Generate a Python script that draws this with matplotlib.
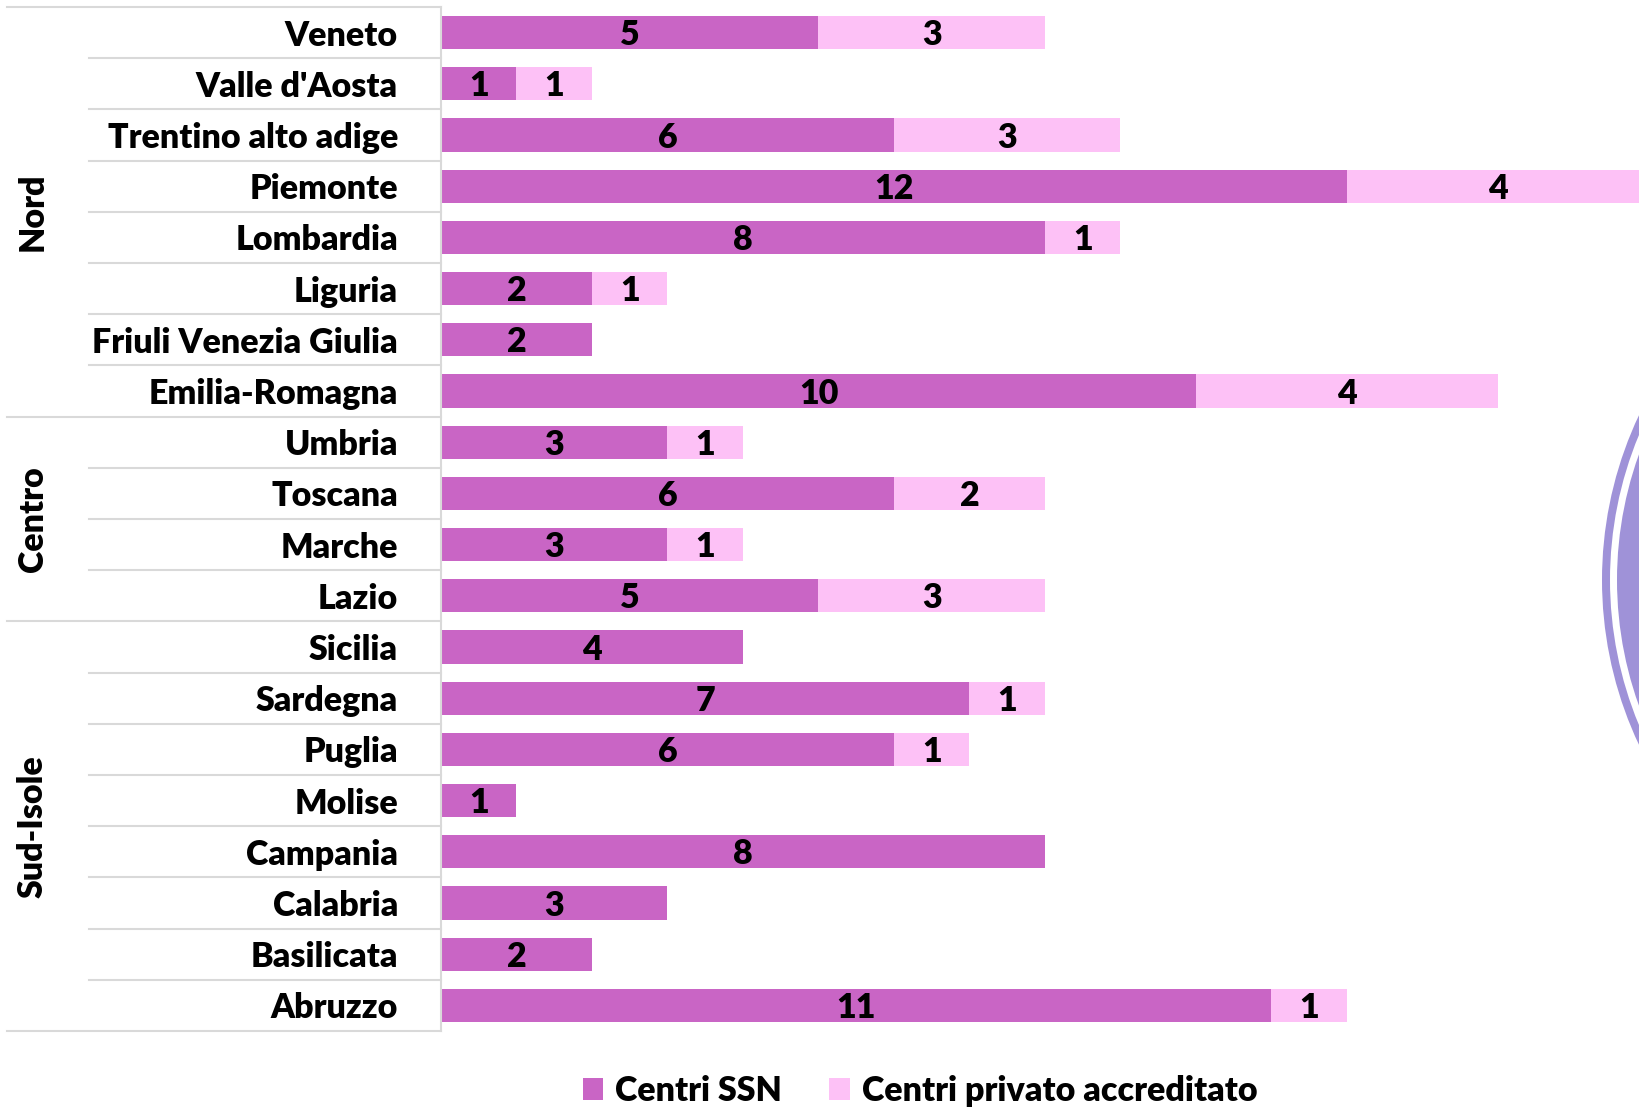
#!/usr/bin/env python3
import matplotlib
matplotlib.use("Agg")
import matplotlib.pyplot as plt
from matplotlib.patches import Circle
from matplotlib.transforms import blended_transform_factory
import numpy

# data, top to bottom as in the chart
regions = [
    "Veneto", "Valle d'Aosta", "Trentino alto adige", "Piemonte", "Lombardia",
    "Liguria", "Friuli Venezia Giulia", "Emilia-Romagna",
    "Umbria", "Toscana", "Marche", "Lazio",
    "Sicilia", "Sardegna", "Puglia", "Molise", "Campania", "Calabria",
    "Basilicata", "Abruzzo",
]
centri_ssn = [5, 1, 6, 12, 8, 2, 2, 10, 3, 6, 3, 5, 4, 7, 6, 1, 8, 3, 2, 11]
centri_privati = [3, 1, 3, 4, 1, 1, 0, 4, 1, 2, 1, 3, 0, 1, 1, 0, 0, 0, 0, 1]
groups = ["Nord", "Centro", "Sud-Isole"]
group_sizes = [8, 4, 8]

col_ssn = "#C965C5"
col_priv = "#FDC1F6"
line_col = "#D9D9D9"

plt.rcParams["font.family"] = ["Lato", "DejaVu Sans"]
plt.rcParams["font.weight"] = "heavy"
fs = 24.5

W, H = 1640, 1110
fig = plt.figure(figsize=(W / 100, H / 100), dpi=100)

# decorative arc on the right edge (from the slide background)
ov = fig.add_axes([0, 0, 1, 1], zorder=0)
ov.set_xlim(0, W)
ov.set_ylim(H, 0)
ov.axis("off")
ov.add_patch(Circle((1988, 580), 382, fill=False, ec="#9F92D8", lw=8 * 0.72))
ov.add_patch(Circle((1988, 580), 371, fc="#9F92D8", ec="none"))

left_px, top_px, bot_px = 441, 7, 1031
ax = fig.add_axes([left_px / W, 1 - bot_px / H, 1 - left_px / W, (bot_px - top_px) / H], zorder=1)
ax.patch.set_alpha(0)

y = numpy.arange(len(regions))
ssn = numpy.array(centri_ssn)
priv = numpy.array(centri_privati)
ax.barh(y, ssn, height=0.65, color=col_ssn, label="Centri SSN")
ax.barh(y, priv, left=ssn, height=0.65, color=col_priv, label="Centri privato accreditato")

for i in range(len(regions)):
    ax.text(ssn[i] / 2, y[i] + 0.05, str(ssn[i]), ha="center", va="center", fontsize=fs, color="black")
    if priv[i] > 0:
        ax.text(ssn[i] + priv[i] / 2, y[i] + 0.05, str(priv[i]), ha="center", va="center", fontsize=fs, color="black")

ax.set_xlim(0, (W - left_px) / 75.5)
ax.set_ylim(len(regions) - 0.5, -0.5)
ax.set_xticks([])
ax.set_yticks(y)
ax.set_yticklabels(regions, fontsize=fs)
ax.tick_params(axis="y", length=0, pad=31)
for s in ["top", "right", "bottom"]:
    ax.spines[s].set_visible(False)
ax.spines["left"].set_color(line_col)
ax.spines["left"].set_linewidth(1.5)

# category separators and group separators
tr = blended_transform_factory(ax.transAxes, ax.transData)
x_inner = (89 - left_px) / (W - left_px)
x_outer = (7 - left_px) / (W - left_px)
group_edges = numpy.cumsum([0] + group_sizes) - 0.5
for b in numpy.arange(len(regions) + 1) - 0.5:
    x0 = x_outer if b in group_edges else x_inner
    ax.plot([x0, 0], [b, b], color=line_col, lw=1.5, transform=tr, clip_on=False)

x_group = (33 - left_px) / (W - left_px)
start = 0
for g, n in zip(groups, group_sizes):
    ax.text(x_group, start + (n - 1) / 2, g, rotation=90, ha="center", va="center",
            fontsize=fs, transform=tr)
    start += n

fig.legend(loc="center", bbox_to_anchor=(920 / W, 1 - 1091 / H), ncol=2, frameon=False,
           fontsize=fs, handlelength=0.6, handleheight=0.6, handletextpad=0.35,
           columnspacing=1.4)

plt.savefig("out.png", dpi=100)
